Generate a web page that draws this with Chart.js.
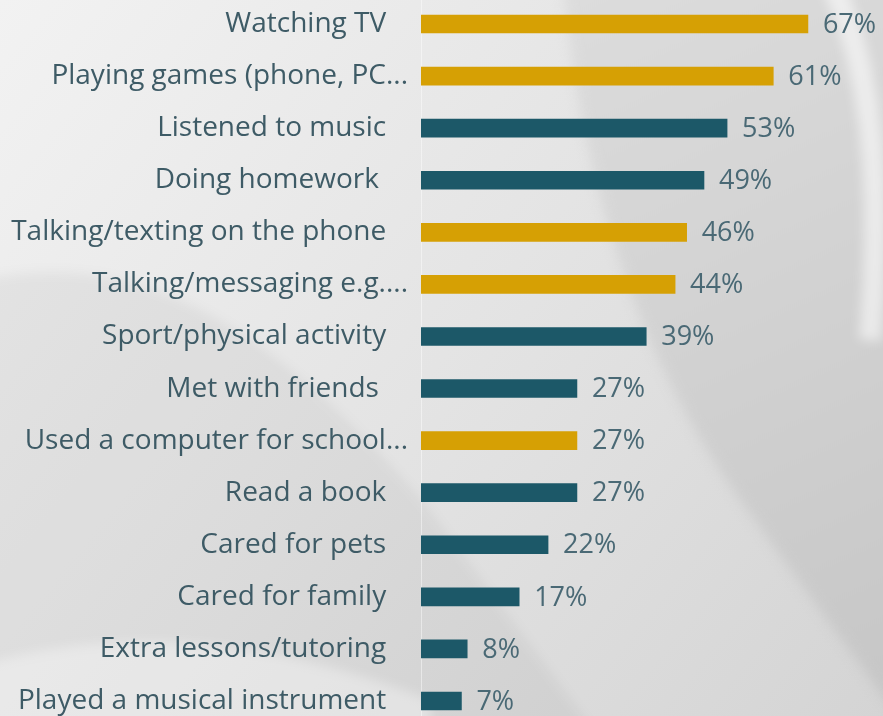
<!DOCTYPE html>
<html>
<head>
<meta charset="utf-8">
<script src="https://cdn.jsdelivr.net/npm/chart.js@4"></script>
<style>
  html, body { margin: 0; padding: 0; overflow: hidden; background: #e2e2e2; }
  #wrap { position: absolute; left: 0; top: -2px; width: 883px; height: 729px; }
</style>
</head>
<body>
<div id="wrap"><canvas id="myChart" width="883" height="729"></canvas></div>
<script>
var activities = [
    'Watching TV',
    'Playing games (phone, PC...',
    'Listened to music',
    'Doing homework ',
    'Talking/texting on the phone',
    'Talking/messaging e.g....',
    'Sport/physical activity',
    'Met with friends ',
    'Used a computer for school...',
    'Read a book',
    'Cared for pets',
    'Cared for family',
    'Extra lessons/tutoring',
    'Played a musical instrument'
];
var percents = [67, 61, 53, 49, 46, 44, 39, 27, 27, 27, 22, 17, 8, 7];
// screen-based activities are highlighted in gold
var screenBased = [true, true, false, false, true, true, false, false, true, false, false, false, false, false];

var gold = '#d6a004';
var teal = '#1c5868';
var textColor = '#3e5b66';
var fontFamily = '"Open Sans", "Noto Sans", sans-serif';

// soft grey swooshes behind the chart
var backdrop = {
    id: 'backdrop',
    beforeDraw: function(chart) {
        var c = chart.ctx;
        c.save();
        c.translate(0, 2);

        var g = c.createLinearGradient(0, 0, 883, 716);
        g.addColorStop(0, '#f2f2f2');
        g.addColorStop(0.5, '#e4e4e4');
        g.addColorStop(1, '#d4d4d4');
        c.fillStyle = g;
        c.fillRect(0, -2, 883, 720);

        c.filter = 'blur(6px)';

        // darker sweep on the right
        c.beginPath();
        c.moveTo(563, -20);
        c.bezierCurveTo(580, 180, 640, 360, 740, 500);
        c.lineTo(900, 720);
        c.lineTo(900, -20);
        c.closePath();
        var g2 = c.createLinearGradient(560, 0, 883, 716);
        g2.addColorStop(0, '#dcdcdc');
        g2.addColorStop(1, '#c6c6c6');
        c.fillStyle = g2;
        c.fill();

        // bright curve at the right edge
        c.beginPath();
        c.moveTo(830, -20);
        c.bezierCurveTo(880, 80, 880, 220, 870, 340);
        c.lineWidth = 22;
        c.strokeStyle = 'rgba(255,255,255,0.55)';
        c.stroke();

        // shaded band on the left
        c.beginPath();
        c.moveTo(-20, 280);
        c.bezierCurveTo(120, 250, 250, 300, 425, 505);
        c.lineTo(600, 740);
        c.lineTo(-20, 740);
        c.closePath();
        c.fillStyle = 'rgba(0,0,0,0.045)';
        c.fill();

        // white sweep at the bottom left
        c.beginPath();
        c.moveTo(-20, 665);
        c.bezierCurveTo(100, 630, 250, 630, 430, 700);
        c.lineTo(430, 740);
        c.lineTo(-20, 740);
        c.closePath();
        c.fillStyle = 'rgba(255,255,255,0.35)';
        c.fill();

        c.restore();
    }
};

// percentage next to each bar
var valueLabels = {
    id: 'valueLabels',
    afterDatasetsDraw: function(chart) {
        var c = chart.ctx;
        var bars = chart.getDatasetMeta(0).data;
        c.save();
        c.font = '27px ' + fontFamily;
        c.fillStyle = '#4a6975';
        c.textAlign = 'left';
        c.textBaseline = 'middle';
        for (var i = 0; i < bars.length; i++) {
            c.fillText(percents[i] + '%', bars[i].x + 15, bars[i].y + 1);
        }
        c.restore();
    }
};

var ctx = document.getElementById('myChart').getContext('2d');
var chart = new Chart(ctx, {
    type: 'bar',
    data: {
        labels: activities,
        datasets: [{
            data: percents,
            backgroundColor: screenBased.map(function(s) { return s ? gold : teal; }),
            barThickness: 18
        }]
    },
    options: {
        indexAxis: 'y',
        responsive: false,
        animation: false,
        layout: { padding: 0 },
        plugins: {
            legend: { display: false },
            tooltip: { enabled: false }
        },
        scales: {
            x: {
                display: false,
                min: 0,
                max: 80
            },
            y: {
                grid: { display: false, drawTicks: false },
                border: { display: true, color: 'rgba(255,255,255,0.45)', width: 1 },
                ticks: {
                    color: textColor,
                    padding: 13,
                    font: { family: fontFamily, size: 28 },
                    callback: function(v, i) {
                        var name = activities[i];
                        // cut-off names sit right against the axis
                        return /\.\.\.$/.test(name) ? name : name + '\u00a0\u00a0\u00a0';
                    }
                },
                afterFit: function(scale) {
                    scale.width = 421;
                    scale.paddingTop = 0;
                    scale.paddingBottom = 0;
                }
            }
        }
    },
    plugins: [backdrop, valueLabels]
});
</script>
</body>
</html>
